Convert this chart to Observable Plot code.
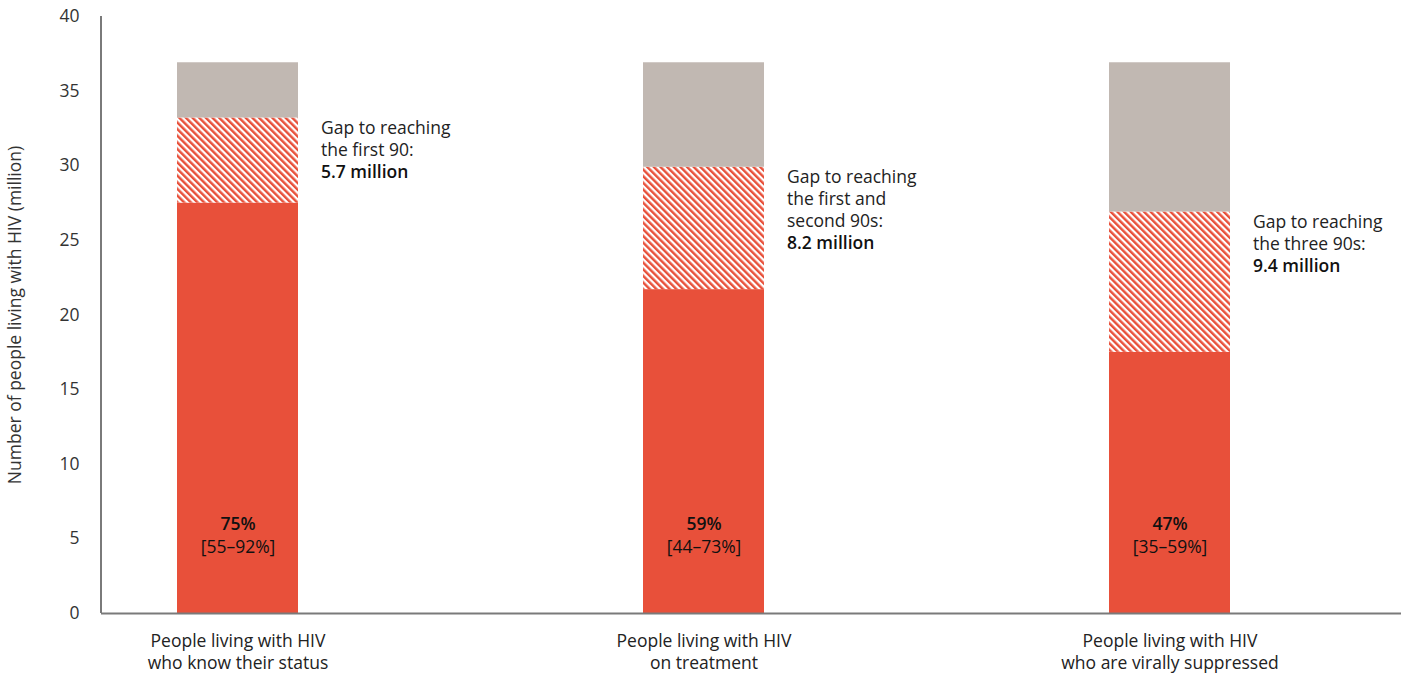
<!DOCTYPE html>
<html>
<head>
<meta charset="utf-8">
<script src="https://cdn.jsdelivr.net/npm/d3@7"></script>
<script src="https://cdn.jsdelivr.net/npm/@observablehq/plot@0.6"></script>
<style>
  html, body { margin: 0; padding: 0; background: #fff; }
  #chart { width: 1408px; height: 675px; }
</style>
</head>
<body>
<div id="chart"></div>
<script>
const categories = [
  "People living with HIV\nwho know their status",
  "People living with HIV\non treatment",
  "People living with HIV\nwho are virally suppressed"
];
const achieved = [27.5, 21.7, 17.5];
const gaps = [5.7, 8.2, 9.4];
const totalPLHIV = 36.9;
const pctLabels = ["75%", "59%", "47%"];
const rangeLabels = ["[55–92%]", "[44–73%]", "[35–59%]"];
const gapLabels = [
  "Gap to reaching\nthe first 90:",
  "Gap to reaching\nthe first and\nsecond 90s:",
  "Gap to reaching\nthe three 90s:"
];
const gapValueLabels = ["5.7 million", "8.2 million", "9.4 million"];
const yTicks = [0, 5, 10, 15, 20, 25, 30, 35, 40];
const parts = ["achieved", "gap", "remaining"];

const RED = "#E8503A";
const GREY = "#C1B8B2";
const FONT = "'Open Sans', 'Noto Sans', sans-serif";
const FS = 17.5;

const stackRows = [];
categories.forEach((c, i) => {
  stackRows.push({cat: c, part: "achieved", value: achieved[i]});
  stackRows.push({cat: c, part: "gap", value: gaps[i]});
  stackRows.push({cat: c, part: "remaining", value: totalPLHIV - achieved[i] - gaps[i]});
});
const labelRows = categories.map((c, i) => ({
  cat: c,
  top: achieved[i] + gaps[i],
  pct: pctLabels[i],
  range: rangeLabels[i],
  gapText: gapLabels[i],
  gapValue: "\n".repeat(gapLabels[i].split("\n").length) + gapValueLabels[i]
}));

const plot = Plot.plot({
  width: 1408,
  height: 675,
  marginTop: 16,
  marginBottom: 62,
  marginLeft: 101,
  marginRight: 7,
  style: {fontFamily: FONT, fontSize: FS + "px", color: "#222", background: "#fff"},
  x: {domain: categories, paddingInner: 0.74, paddingOuter: 0.263, align: 0.306},
  y: {domain: [0, 40]},
  color: {domain: parts, range: [RED, "url(#hatch)", GREY]},
  marks: [
    Plot.barY(stackRows, {x: "cat", y: "value", fill: "part", order: parts}),
    Plot.ruleY([0], {stroke: "#7a7a7a", strokeWidth: 2}),
    Plot.axisY({ticks: yTicks, tickSize: 0, tickPadding: 22, fontSize: FS, fill: "#333",
      label: "Number of people living with HIV (million)", labelArrow: "none", labelAnchor: "center", labelOffset: 93}),
    Plot.axisX({tickSize: 0, tickPadding: 18, lineHeight: 1.26, fontSize: FS, fill: "#222", label: null}),
    Plot.text(labelRows, {x: "cat", text: "pct", frameAnchor: "bottom", dy: -84, fontWeight: 600, fontSize: FS, fill: "#111"}),
    Plot.text(labelRows, {x: "cat", text: "range", frameAnchor: "bottom", dy: -61, fontSize: FS, fill: "#111"}),
    Plot.text(labelRows, {x: "cat", y: "top", text: "gapText", dx: 83, dy: 0, textAnchor: "start", lineAnchor: "top", lineHeight: 1.26, fontSize: FS, fill: "#222"}),
    Plot.text(labelRows, {x: "cat", y: "top", text: "gapValue", dx: 83, dy: 0, textAnchor: "start", lineAnchor: "top", lineHeight: 1.26, fontSize: FS, fontWeight: 600, fill: "#111"})
  ]
});

// hatch pattern definition
const svg = d3.select(plot.tagName === "svg" ? plot : plot.querySelector("svg"));
const defs = svg.insert("defs", ":first-child");
const P = 4.7;
const pat = defs.append("pattern")
  .attr("id", "hatch")
  .attr("patternUnits", "userSpaceOnUse")
  .attr("width", P)
  .attr("height", P)
  .attr("patternTransform", "rotate(-45)");
pat.append("rect").attr("width", P).attr("height", P).attr("fill", "#fff");
pat.append("rect").attr("width", P * 0.52).attr("height", P).attr("fill", RED);

// y axis line via the plot's own scale
const ys = plot.scale("y");
svg.append("line")
  .attr("x1", 101).attr("x2", 101)
  .attr("y1", ys.apply(40)).attr("y2", ys.apply(0))
  .attr("stroke", "#7a7a7a").attr("stroke-width", 2);

document.getElementById("chart").appendChild(plot);
</script>
</body>
</html>
